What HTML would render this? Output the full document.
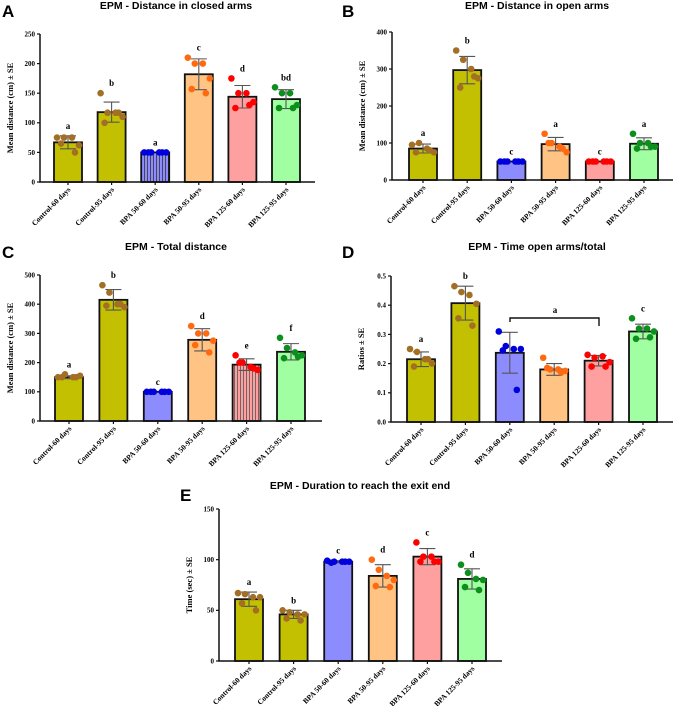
<!DOCTYPE html>
<html><head><meta charset="utf-8"><style>
html,body{margin:0;padding:0;background:#fff;}
svg{display:block;}
.tt{font-family:"Liberation Sans",sans-serif;font-weight:bold;font-size:10.5px;}
.pl{font-family:"Liberation Sans",sans-serif;font-weight:bold;font-size:17px;}
.tk{font-family:"Liberation Serif",serif;font-weight:bold;font-size:7px;}
.cl{font-family:"Liberation Serif",serif;font-weight:bold;font-size:7.5px;}
.yl{font-family:"Liberation Serif",serif;font-weight:bold;font-size:8.5px;}
.lt{font-family:"Liberation Serif",serif;font-weight:bold;font-size:9px;}
</style></head><body>
<svg id="fig" width="676" height="706" viewBox="0 0 676 706">
<defs>
<pattern id="stripe" width="3" height="10" patternUnits="userSpaceOnUse"><rect width="3" height="10" fill="#8c8cff"/><rect width="0.8" height="10" fill="#333"/></pattern>
<pattern id="stripe2" width="3" height="10" patternUnits="userSpaceOnUse"><rect width="3" height="10" fill="#ffa0a0"/><rect width="0.8" height="10" fill="#555"/></pattern>
</defs>
</svg>
<script>
const categories=["Control-60 days","Control-95 days","BPA 50-60 days","BPA 50-95 days","BPA 125-60 days","BPA 125-95 days"];
const meansA=[67,118,50,182,144,140];
const seA=[11,17,0,26,19,16];
const ptsA=[[75,75,75,62,65,50],[150,117,117,110,100,117],[50,50,50,50,50,50],[210,200,200,175,157,150],[175,150,150,135,125,130],[160,150,150,130,125,125]];
const lettersA=["a","b","a","c","d","bd"];
const ticksA=[0,50,100,150,200,250];
const meansB=[85,297,50,97,50,98];
const seB=[12,37,0,18,0,16];
const ptsB=[[95,100,85,75,75,80],[350,325,300,275,250,280],[50,50,50,50,50,50],[125,100,90,75,100,85],[50,50,50,50,50,50],[125,100,100,90,85,90]];
const lettersB=["a","b","c","a","c","a"];
const ticksB=[0,100,200,300,400];
const meansC=[150,415,100,278,193,237];
const seC=[5,35,0,38,20,28];
const ptsC=[[150,160,150,155,150,150],[465,440,400,390,395,400],[100,100,100,100,100,100],[325,300,300,275,260,235],[225,200,185,175,200,180],[285,250,235,225,215,220]];
const lettersC=["a","b","c","d","e","f"];
const ticksC=[0,100,200,300,400,500];
const meansD=[0.215,0.407,0.237,0.18,0.21,0.31];
const seD=[0.025,0.058,0.07,0.02,0.018,0.025];
const ptsD=[[0.25,0.24,0.215,0.2,0.19,0.215],[0.465,0.445,0.435,0.405,0.355,0.33],[0.31,0.26,0.25,0.25,0.245,0.11],[0.22,0.18,0.18,0.175,0.185,0.17],[0.23,0.22,0.225,0.205,0.19,0.19],[0.355,0.32,0.32,0.31,0.285,0.29]];
const lettersD=["a","b","","","","c"];
const ticksD=[0,0.1,0.2,0.3,0.4,0.5];
const meansE=[61,46,98,84,103,81];
const seE=[7,4,1,11,8,10];
const ptsE=[[67,66,63,63,57,50],[50,48,46,46,42,40],[99,98,98,98,97,98],[100,90,84,80,74,73],[117,103,103,98,98,98],[95,87,81,80,73,70]];
const lettersE=["a","b","c","d","c","d"];
const ticksE=[0,50,100,150];

const fills=["#c2c000","#c2c000","#8c8cff","#ffc384","#ffa0a0","#a0ffa0"];
const dots=["#a36f25","#a36f25","#0000dd","#ff6a10","#ff0000","#0d8f1d"];
const jit=[-11,-4,4,11,-7,7];
const NS="http://www.w3.org/2000/svg";
const svg=document.getElementById('fig');
function mk(tag,attrs,parent,text){const e=document.createElementNS(NS,tag);for(const k in attrs)e.setAttribute(k,attrs[k]);if(text!==undefined)e.textContent=text;(parent||svg).appendChild(e);return e;}

function panel(id,cfg,means,se,pts,letters,ticks,fmt){
  const g=mk('g',{});
  
  
  const ymax=ticks[ticks.length-1];
  const y=v=>cfg.y0-(v/ymax)*(cfg.y0-cfg.yTop);
  const x=i=>cfg.x0+cfg.first+i*cfg.step;
  const pl=mk('text',{x:cfg.px,y:cfg.py,class:'pl'},g,id);
  
  const t=mk('text',{x:cfg.tx,y:cfg.ty,class:'tt','text-anchor':'middle'},g,cfg.title);
  
  const yl=mk('text',{x:0,y:0,class:'yl','text-anchor':'middle',transform:`translate(${cfg.x0-27},${(cfg.y0+cfg.yTop)/2}) rotate(-90)`},g,cfg.ylab);
  
  means.forEach((m,i)=>{
    let f=fills[i]; if(cfg.stripe===i) f=(i===2?'url(#stripe)':'url(#stripe2)');
    const r=mk('rect',{x:x(i)-14,y:y(m),width:28,height:cfg.y0-y(m),fill:f,stroke:'#111','stroke-width':1.8},g);
    
  });
  means.forEach((m,i)=>{
    if(!se[i])return;
    const c=x(i);
    const e=mk('path',{d:`M${c},${y(m-se[i])}V${y(m+se[i])}M${c-8},${y(m+se[i])}H${c+8}M${c-8},${y(m-se[i])}H${c+8}`,stroke:'#555','stroke-width':1.1,fill:'none'},g);
    
  });
  pts.forEach((arr,i)=>{
    arr.forEach((v,j)=>{
      const p=mk('circle',{cx:x(i)+jit[j],cy:y(v),r:3.3,fill:dots[i]},g);
      
    });
  });
  letters.forEach((L,i)=>{
    if(!L)return;
    const top=Math.max(means[i]+se[i],Math.max(...pts[i]));
    const lt=mk('text',{x:x(i),y:y(top)-7,class:'lt','text-anchor':'middle'},g,L);
    
  });
  const ax=mk('path',{d:`M${cfg.x0},${cfg.yTop}V${cfg.y0}H${cfg.xEnd}`,stroke:'#111','stroke-width':1.5,fill:'none'},g);
  
  ticks.forEach(v=>{
    mk('line',{x1:cfg.x0-3,x2:cfg.x0,y1:y(v),y2:y(v),stroke:'#111','stroke-width':1.2},g);
    const tl=mk('text',{x:cfg.x0-5,y:y(v)+2.4,class:'tk','text-anchor':'end'},g,fmt?v.toFixed(1):v);
    
  });
  categories.forEach((c,i)=>{
    mk('line',{x1:x(i),x2:x(i),y1:cfg.y0,y2:cfg.y0+3,stroke:'#111','stroke-width':1.2},g);
    const cl=mk('text',{x:0,y:0,class:'cl','text-anchor':'end',transform:`translate(${x(i)+3},${cfg.y0+8}) rotate(-45)`},g,c);
    
  });
}
panel('A',{x0:40,y0:182,yTop:34,xEnd:315,first:28,step:43.6,px:2,py:17,tx:176,ty:9,title:'EPM - Distance in closed arms',ylab:'Mean distance (cm) ± SE',stripe:2},meansA,seA,ptsA,lettersA,ticksA);
panel('B',{x0:392,y0:180,yTop:32,xEnd:673,first:31,step:44.2,px:342,py:17,tx:537,ty:9,title:'EPM - Distance in open arms',ylab:'Mean distance (cm) ± SE'},meansB,seB,ptsB,lettersB,ticksB);
panel('C',{x0:40,y0:421,yTop:275,xEnd:322,first:29,step:44.4,px:2,py:258,tx:176,ty:250,title:'EPM - Total distance',ylab:'Mean distance (cm) ± SE',stripe:4},meansC,seC,ptsC,lettersC,ticksC);
panel('D',{x0:391,y0:422,yTop:276,xEnd:673,first:30,step:44.4,px:342,py:258,tx:537,ty:250,title:'EPM - Time open arms/total',ylab:'Ratios ± SE'},meansD,seD,ptsD,lettersD,ticksD,true);
panel('E',{x0:219,y0:661,yTop:509,xEnd:502,first:30,step:44.6,px:180,py:501,tx:360,ty:489,title:'EPM - Duration to reach the exit end',ylab:'Time (sec) ± SE'},meansE,seE,ptsE,lettersE,ticksE);
const br=mk('path',{d:'M510,322V318H599V326',stroke:'#111','stroke-width':1.4,fill:'none'});

const bl=mk('text',{x:555,y:313,class:'lt','text-anchor':'middle'},svg,'a');

</script>
</body></html>
